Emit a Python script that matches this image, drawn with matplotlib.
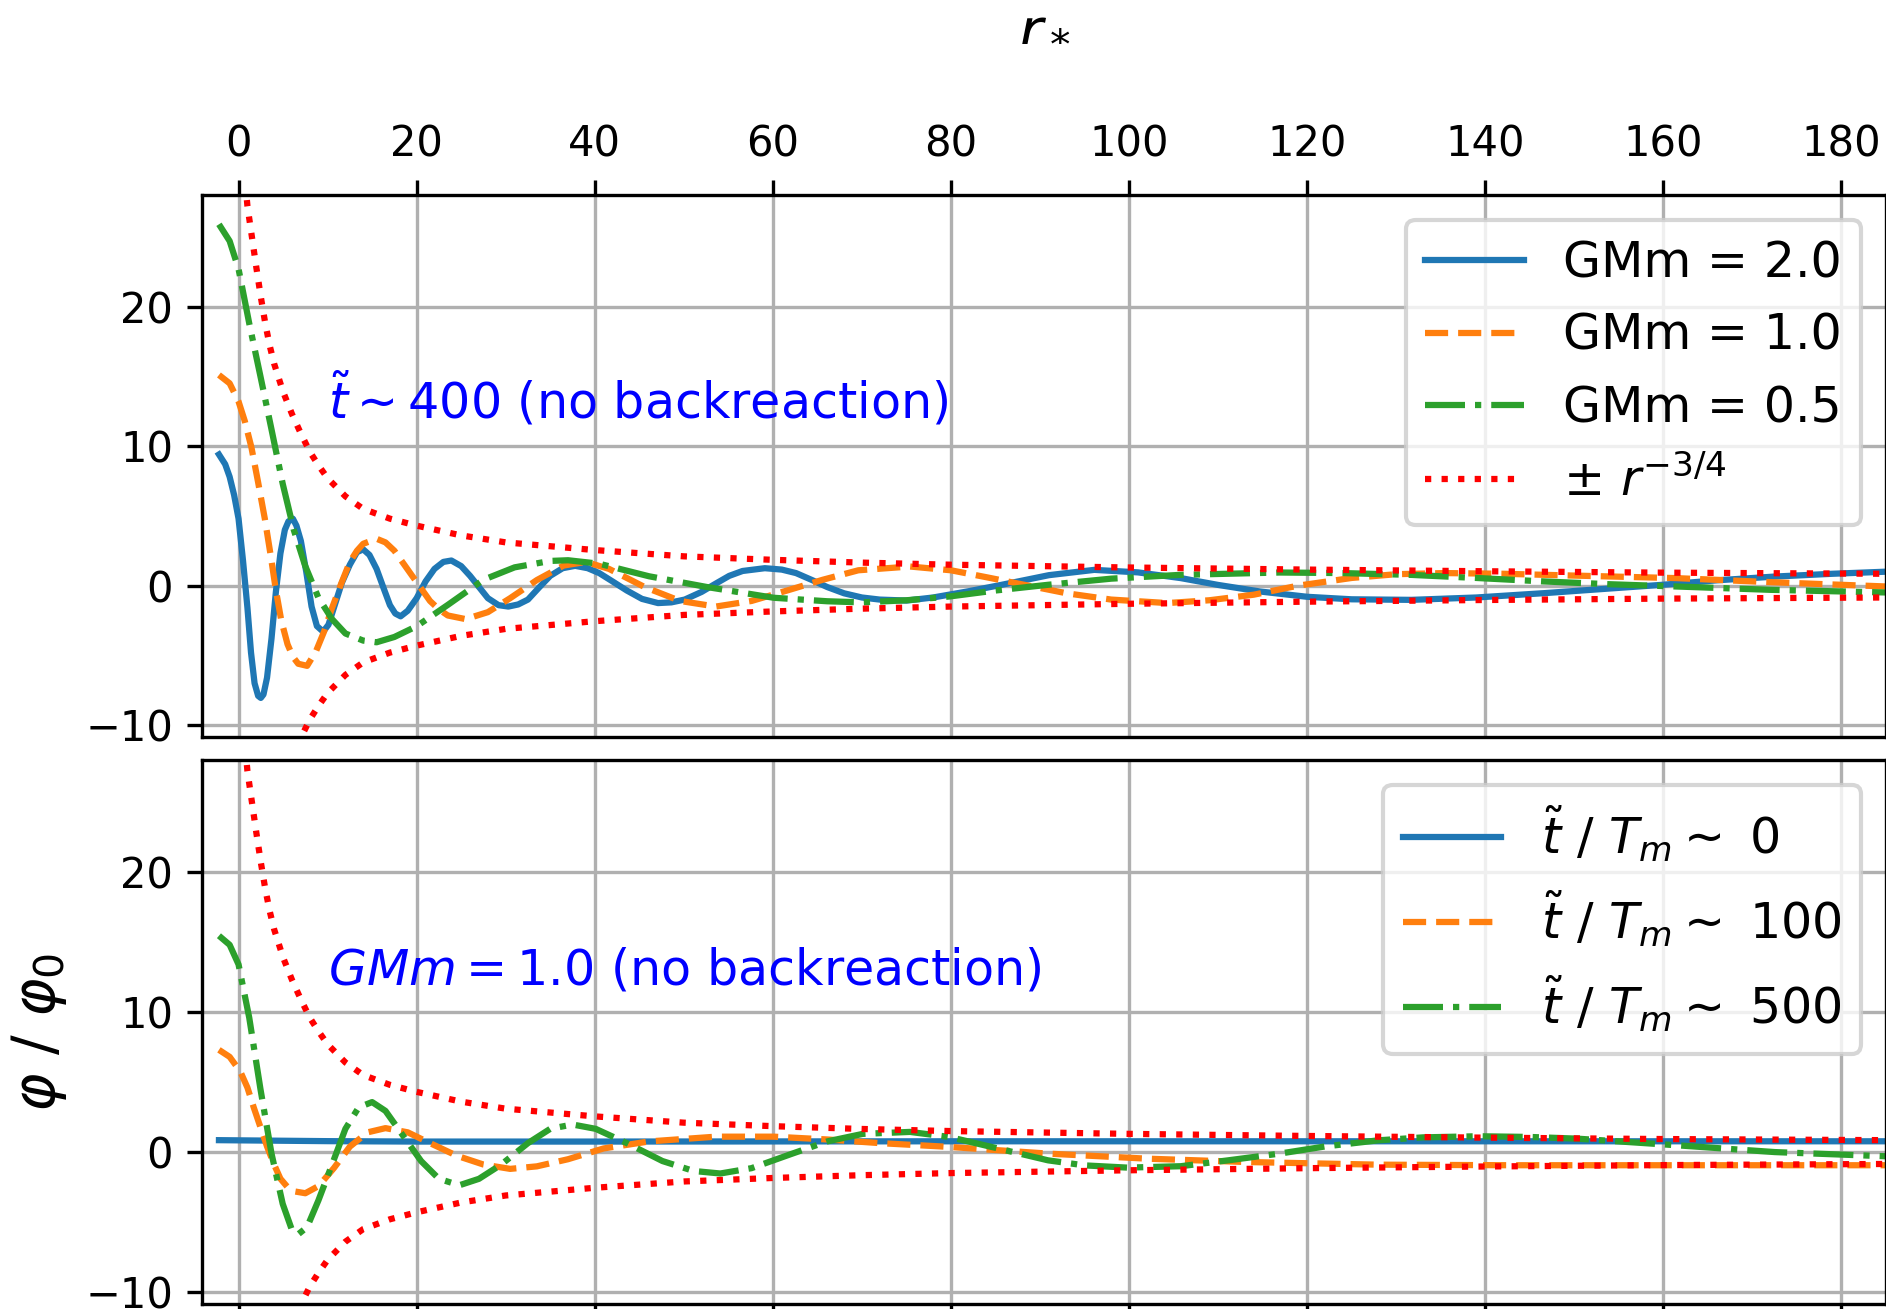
import matplotlib.pyplot as plt
import numpy as np

# envelope +- r^{-3/4}
env_x = [0.6, 1, 1.5, 2, 2.5, 3, 3.5, 4, 5, 6, 7, 8, 9, 10, 12, 14, 17, 20, 25, 30, 40, 50, 60, 70, 80,
         100, 120, 140, 160, 185]
env_y = [30.0, 27.2, 25.0, 22.8, 20.7, 18.8, 17.2, 15.9, 13.9, 12.3, 10.9, 9.6, 8.6, 7.7, 6.4, 5.5, 4.8,
         4.3, 3.6, 3.1, 2.55, 2.1, 1.85, 1.65, 1.5, 1.3, 1.15, 1.03, 0.93, 0.85]

# top panel: t ~ 400, no backreaction
gm2_x = [-2.2, -1.5, -1.0, -0.5, 0, 0.5, 1.0, 1.4, 1.8, 2.2, 2.5, 2.8, 3.2, 3.7, 4.2, 4.7, 5.2, 5.6, 6.1,
         6.5, 7.0, 7.6, 8.2, 8.8, 9.5, 10.1, 10.7, 11.6, 12.5, 13.3, 14.0, 14.7, 15.5, 16.3, 17.0, 17.6,
         18.2, 19.0, 20.0, 21.0, 22.0, 23.0, 23.9, 25.0, 26.0, 27.0, 28.0, 29.2, 30.3, 31.4, 32.5, 33.8,
         35.0, 36.4, 37.8, 39.2, 40.5, 42, 43.6, 45.3, 47.1, 48.6, 50.1, 52, 53.6, 55.1, 56.6, 59.1, 61,
         62.6, 64.4, 66.1, 68, 70, 72, 75, 78, 82, 85.7, 91, 96.1, 101, 105.8, 110, 114.7, 120, 125,
         131.7, 139, 146.6, 153, 159.9, 166, 172.5, 179, 185]
gm2_y = [9.4, 8.7, 7.8, 6.5, 4.8, 1.8, -1.6, -4.8, -7.0, -7.9, -8.05, -7.8, -6.6, -3.8, -0.4, 2.3, 4.0,
         4.6, 4.8, 4.3, 3.2, 1.0, -1.5, -2.9, -3.3, -2.8, -1.6, 0.2, 1.5, 2.4, 2.6, 2.2, 1.2, -0.2, -1.4,
         -2.0, -2.2, -1.8, -0.9, 0.3, 1.2, 1.7, 1.8, 1.4, 0.7, -0.1, -0.9, -1.4, -1.5, -1.35, -1.0, -0.1,
         0.7, 1.25, 1.42, 1.25, 0.9, 0.3, -0.35, -0.95, -1.25, -1.2, -1.0, -0.45, 0.15, 0.7, 1.05, 1.25,
         1.15, 0.9, 0.4, -0.1, -0.55, -0.85, -1.0, -1.07, -0.85, -0.4, 0.06, 0.75, 1.13, 0.95, 0.54, 0.05,
         -0.42, -0.8, -0.98, -1.02, -0.85, -0.54, -0.25, 0.06, 0.38, 0.65, 0.85, 1.0]

gm1_x = [-2.2, -1.0, 0, 0.7, 1.45, 2.2, 2.95, 3.6, 4.2, 4.8, 5.5, 6.1, 6.7, 7.7, 8.7, 9.6, 10.5, 11.5,
         12.5, 13.3, 14.0, 15.5, 16.5, 17.5, 18.5, 19.5, 20.5, 21.5, 22.5, 23.5, 25.5, 27, 28.0, 30.5,
         33.5, 36.5, 39.0, 41.6, 45.6, 49.6, 53.6, 57.6, 61.6, 65.6, 69.6, 75.4, 80, 84, 88.7, 93, 98,
         104.3, 109, 114, 119, 125, 130, 135.4, 142, 150, 161.4, 172, 185]
gm1_y = [15.1, 14.5, 13.2, 11.8, 9.9, 7.4, 4.8, 2.2, -0.35, -2.5, -4.2, -5.1, -5.6, -5.75, -4.7, -3.3,
         -1.6, 0.1, 1.7, 2.5, 3.0, 3.36, 3.1, 2.5, 1.6, 0.7, -0.2, -1.1, -1.7, -2.14, -2.4, -2.1, -1.9,
         -0.9, 0.4, 1.44, 1.7, 1.2, -0.1, -1.1, -1.5, -1.1, -0.35, 0.42, 1.1, 1.37, 1.1, 0.6, 0.0, -0.55,
         -1.0, -1.25, -1.05, -0.65, 0.0, 0.55, 0.82, 0.9, 0.85, 0.72, 0.54, 0.25, -0.06]

gm05_x = [-2.2, -1.0, 0, 1.2, 2.46, 3.7, 4.96, 6.2, 7.47, 8.97, 10.5, 12.0, 14.0, 15.5, 17.5, 20.0, 23.5,
          27.5, 31.0, 35.0, 37.0, 40.5, 46.1, 52.6, 60.1, 66.1, 70, 75, 79.8, 85, 90.9, 98, 105.7, 116.9,
          124, 131.7, 139, 146.6, 154, 161.4, 172, 185]
gm05_y = [25.9, 24.7, 22.7, 18.8, 15.0, 11.2, 7.3, 4.0, 1.44, -0.87, -2.4, -3.43, -3.94, -4.06, -3.68,
          -2.91, -1.38, 0.42, 1.31, 1.77, 1.82, 1.57, 0.67, -0.1, -0.87, -1.12, -1.2, -1.05, -0.78, -0.35,
          0.06, 0.5, 0.77, 0.94, 0.9, 0.77, 0.55, 0.3, 0.1, -0.06, -0.3, -0.49]

# bottom panel: GMm = 1.0, different times
t0_x = [-2.2, 10, 20, 40, 80, 120, 185]
t0_y = [0.85, 0.78, 0.75, 0.75, 0.77, 0.77, 0.77]

t100_x = [-2.2, -1.0, 0.2, 1.0, 1.7, 2.5, 3.2, 4.0, 4.7, 5.5, 6.2, 7.5, 9.0, 10.7, 12.5, 14.5, 16.5, 19.0,
          21.5, 24.5, 27.5, 30.5, 33.5, 37.0, 41.0, 46.1, 53.6, 60.1, 66.1, 72.0, 79.8, 90.9, 102, 113.2,
          128, 142.8, 185]
t100_y = [7.3, 6.8, 5.75, 4.6, 3.2, 1.7, 0.4, -0.9, -1.9, -2.5, -2.8, -2.94, -2.42, -1.15, 0.39, 1.41,
          1.71, 1.41, 0.64, -0.26, -0.89, -1.2, -1.02, -0.51, 0.26, 0.76, 1.1, 1.1, 0.9, 0.64, 0.37, -0.11,
          -0.47, -0.71, -0.9, -0.94, -0.94]

t500_x = [-2.2, -1.0, 0, 1.2, 2.46, 3.7, 4.96, 5.96, 6.7, 7.7, 8.97, 10.5, 12.0, 13.5, 15.0, 16.5, 18.5,
          20.5, 22.5, 24.8, 27.0, 29.5, 32.5, 35.0, 37.5, 40.1, 43.6, 47.6, 51.1, 54.1, 57.6, 62.1, 66.1,
          70.1, 75.4, 79.8, 85, 90.9, 95, 99.8, 105.8, 111, 116.9, 122, 128, 133, 139.2, 145, 150.3,
          161.4, 172.5, 185]
t500_y = [15.45, 14.8, 13.4, 9.6, 4.5, -0.1, -3.7, -5.5, -5.87, -5.36, -3.45, -0.89, 1.66, 3.2, 3.57,
          2.94, 1.15, -0.64, -1.91, -2.37, -1.91, -0.89, 0.64, 1.66, 1.97, 1.66, 0.64, -0.64, -1.35, -1.53,
          -1.15, -0.13, 0.76, 1.3, 1.44, 1.08, 0.3, -0.59, -0.95, -1.11, -1.01, -0.6, -0.11, 0.4, 0.84,
          1.05, 1.13, 1.08, 0.96, 0.49, 0.0, -0.3]

W, H = 1886, 1309
fig = plt.figure(figsize=(W / 300, H / 300), dpi=300)

ax1 = fig.add_axes([202.3 / W, 1 - 737 / H, 1 - 202.3 / W, 542 / H])
ax2 = fig.add_axes([202.3 / W, 1 - 1304 / H, 1 - 202.3 / W, 544 / H])

env = np.array(env_y)

ax1.plot(gm2_x, gm2_y, '-', label='GMm = 2.0')
ax1.plot(gm1_x, gm1_y, '--', label='GMm = 1.0')
ax1.plot(gm05_x, gm05_y, '-.', label='GMm = 0.5')
ax1.plot(env_x, env, ':', color='red', label=r'$\pm\ r^{-3/4}$')
ax1.plot(env_x, -env, ':', color='red')
ax1.text(10, 12, r'$\tilde{t} \sim 400$ (no backreaction)', color='blue', fontsize=11.8)

ax2.plot(t0_x, t0_y, '-', label=r'$\tilde{t}\ /\ T_m \sim$ 0')
ax2.plot(t100_x, t100_y, '--', label=r'$\tilde{t}\ /\ T_m \sim$ 100')
ax2.plot(t500_x, t500_y, '-.', label=r'$\tilde{t}\ /\ T_m \sim$ 500')
ax2.plot(env_x, env, ':', color='red')
ax2.plot(env_x, -env, ':', color='red')
ax2.text(10, 12, r'$GMm = 1.0$ (no backreaction)', color='blue', fontsize=11.8)

for ax in (ax1, ax2):
    ax.set_xlim(-4.07, 185.0)
    ax.set_ylim(-10.85, 28.0)
    ax.set_xticks(np.arange(0, 181, 20))
    ax.set_yticks([-10, 0, 10, 20])
    ax.grid(True)
    ax.legend(loc='upper right', fontsize=11.8)

ax1.xaxis.tick_top()
ax1.xaxis.set_label_position('top')
ax1.set_xlabel(r'$r_*$', fontsize=14, labelpad=20)
ax2.set_ylabel(r'$\varphi$ / $\varphi_0$', fontsize=14)
# lower tick labels fall below the cropped figure edge
ax2.tick_params(axis='x', labelbottom=False)

fig.savefig('out.png', dpi=300)
